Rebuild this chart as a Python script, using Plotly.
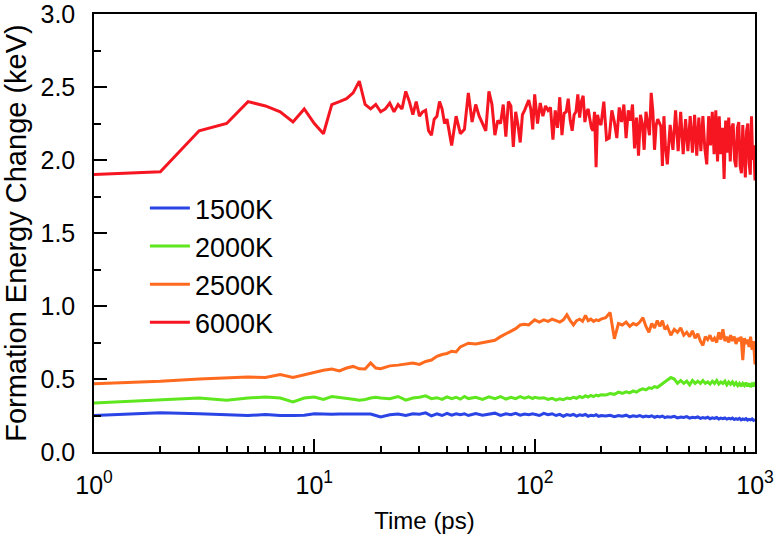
import plotly.graph_objects as go

# ---------------- data ----------------
# time grid for the 6000K series (ps)
time_red = (list(range(1, 41)) + list(range(42, 100, 2)) + list(range(100, 199, 3))
            + list(range(200, 398, 6)) + list(range(400, 1001, 12)))
energy_6000K = [
    1.90, 1.92, 2.20, 2.25, 2.40, 2.37, 2.33, 2.26, 2.35, 2.25,
    2.18, 2.38, 2.40, 2.42, 2.46, 2.54, 2.38, 2.35, 2.38, 2.33,
    2.35, 2.39, 2.33, 2.38, 2.35, 2.47, 2.40, 2.31, 2.40, 2.30,
    2.33, 2.34, 2.20, 2.17, 2.28, 2.30, 2.40, 2.35, 2.25, 2.28,
    # 42..98 step 2
    2.10, 2.30, 2.18, 2.21, 2.46, 2.26, 2.38, 2.30, 2.25, 2.20,
    2.47, 2.38, 2.17, 2.27, 2.25, 2.38, 2.16, 2.40, 2.37, 2.09,
    2.33, 2.24, 2.12, 2.31, 2.34, 2.38, 2.41, 2.35, 2.21,
    # 100..196 step 3
    2.45, 2.25, 2.39, 2.30, 2.37, 2.34, 2.36, 2.14, 2.34, 2.22,
    2.43, 2.17, 2.32, 2.33, 2.42, 2.27, 2.20, 2.31, 2.33, 2.45,
    2.29, 2.40, 2.44, 2.26, 2.33, 2.35, 2.28, 2.22, 2.20, 2.33,
    1.95, 2.31, 2.26,
    # 200..392 step 6
    2.24, 2.40, 2.14, 2.15, 2.34, 2.26, 2.15, 2.36, 2.26, 2.38,
    2.15, 2.34, 2.27, 2.38, 2.08, 2.29, 2.03, 2.31, 2.25, 2.07,
    2.33, 2.25, 2.17, 2.46, 2.33, 2.07, 2.24, 2.28, 2.26, 2.23,
    1.96, 2.30, 2.10,
    # 400..1000 step 12
    1.97, 2.24, 2.07, 2.34, 2.06, 2.33, 2.04, 2.28, 2.06, 2.30,
    2.05, 2.31, 2.03, 2.29, 2.06, 2.30, 2.08, 1.97, 2.30, 2.10,
    2.33, 2.04, 2.34, 1.99, 2.30, 2.04, 2.22, 1.87, 2.27, 2.05,
    2.29, 1.99, 2.22, 2.25, 2.00, 1.95, 2.22, 2.26, 1.96, 1.91,
    2.24, 2.05, 1.88, 2.20, 2.25, 1.98, 1.90, 2.30, 2.00, 2.10,
    1.86,
]

# time grid for the 1500K, 2000K and 2500K series (ps)
time_low = (list(range(1, 21)) + list(range(22, 51, 2)) + list(range(54, 99, 4))
            + list(range(100, 201, 5)) + list(range(210, 401, 10)) + list(range(415, 1001, 15)))

energy_1500K = [
    0.250, 0.268, 0.262, 0.258, 0.250, 0.257, 0.250, 0.250, 0.252, 0.262,
    0.258, 0.258, 0.260, 0.260, 0.260, 0.262, 0.262, 0.260, 0.250, 0.240,
    0.255, 0.260, 0.250, 0.262, 0.258, 0.268, 0.248, 0.262, 0.250, 0.265,
    0.252, 0.262, 0.255, 0.262, 0.250,
    0.264, 0.252, 0.260, 0.266, 0.250, 0.262, 0.255, 0.265, 0.252, 0.260,
    0.256, 0.262,
    0.258, 0.250, 0.265, 0.255, 0.262, 0.250, 0.258, 0.245, 0.256, 0.250,
    0.258, 0.246, 0.255, 0.250, 0.257, 0.245, 0.252, 0.248, 0.255, 0.244,
    0.250,
    0.246, 0.252, 0.242, 0.250, 0.245, 0.252, 0.240, 0.248, 0.244, 0.250,
    0.240, 0.246, 0.242, 0.248, 0.238, 0.245, 0.240, 0.246, 0.236, 0.242,
    0.238, 0.244, 0.234, 0.240, 0.236, 0.242, 0.232, 0.238, 0.235, 0.240,
    0.230, 0.236, 0.232, 0.238, 0.228, 0.234, 0.230, 0.236, 0.226, 0.232,
    0.228, 0.234, 0.225, 0.230, 0.226, 0.232, 0.222, 0.228, 0.224, 0.230,
    0.220, 0.226, 0.222, 0.228, 0.218, 0.224, 0.220, 0.226, 0.216, 0.222,
]

energy_2000K = [
    0.336, 0.360, 0.370, 0.355, 0.370, 0.377, 0.370, 0.343, 0.370, 0.377,
    0.360, 0.380, 0.375, 0.370, 0.362, 0.355, 0.360, 0.370, 0.375, 0.370,
    0.365, 0.380, 0.355, 0.370, 0.375, 0.385, 0.365, 0.372, 0.360, 0.378,
    0.365, 0.375, 0.362, 0.380, 0.366,
    0.375, 0.360, 0.378, 0.365, 0.380, 0.362, 0.375, 0.365, 0.380, 0.368,
    0.378, 0.366,
    0.375, 0.368, 0.372, 0.360, 0.368, 0.355, 0.365, 0.358, 0.370, 0.365,
    0.375, 0.368, 0.380, 0.372, 0.385, 0.376, 0.388, 0.380, 0.390, 0.384,
    0.392,
    0.390, 0.400, 0.395, 0.410, 0.402, 0.412, 0.405, 0.418, 0.410, 0.425,
    0.432, 0.425, 0.440, 0.435, 0.448, 0.442, 0.455, 0.462, 0.475, 0.490,
    0.510, 0.500, 0.470, 0.490, 0.470, 0.485, 0.460, 0.490, 0.470, 0.485,
    0.470, 0.490, 0.470, 0.480, 0.465, 0.485, 0.470, 0.490, 0.465, 0.480,
    0.470, 0.485, 0.460, 0.480, 0.465, 0.480, 0.460, 0.475, 0.455, 0.470,
    0.450, 0.470, 0.455, 0.475, 0.450, 0.470, 0.445, 0.465, 0.450, 0.480,
]

energy_2500K = [
    0.468, 0.484, 0.500, 0.505, 0.513, 0.510, 0.530, 0.510, 0.530, 0.545,
    0.560, 0.568, 0.555, 0.575, 0.586, 0.570, 0.568, 0.610, 0.575, 0.570,
    0.590, 0.595, 0.605, 0.610, 0.600, 0.620, 0.630, 0.655, 0.668, 0.675,
    0.690, 0.685, 0.720, 0.735, 0.745,
    0.740, 0.750, 0.760, 0.765, 0.790, 0.810, 0.830, 0.845, 0.870, 0.875,
    0.870, 0.895,
    0.905, 0.890, 0.905, 0.895, 0.910, 0.900, 0.890, 0.905, 0.940, 0.900,
    0.870, 0.900, 0.910, 0.895, 0.935, 0.900, 0.910, 0.895, 0.905, 0.900,
    0.910,
    0.920, 0.955, 0.775, 0.880, 0.870, 0.890, 0.860, 0.880, 0.870, 0.890,
    0.920, 0.860, 0.820, 0.880, 0.850, 0.900, 0.860, 0.900, 0.840, 0.860,
    0.800, 0.840, 0.820, 0.850, 0.800, 0.820, 0.790, 0.830, 0.780, 0.810,
    0.760, 0.730, 0.790, 0.770, 0.800, 0.760, 0.780, 0.750, 0.820, 0.770,
    0.840, 0.760, 0.790, 0.750, 0.800, 0.760, 0.790, 0.740, 0.780, 0.760,
    0.790, 0.630, 0.780, 0.740, 0.770, 0.720, 0.790, 0.700, 0.760, 0.600,
]

series_names = ["1500K", "2000K", "2500K", "6000K"]
series_colors = ["#2a44e6", "#5ee61e", "#ff6a1e", "#f51622"]

x_tick_vals = [1, 10, 100, 1000]
x_tick_text = ["10<sup>0</sup>", "10<sup>1</sup>", "10<sup>2</sup>", "10<sup>3</sup>"]
y_tick_vals = [0.0, 0.5, 1.0, 1.5, 2.0, 2.5, 3.0]
y_tick_text = ["0.0", "0.5", "1.0", "1.5", "2.0", "2.5", "3.0"]

# ---------------- figure ----------------
FONT = "Liberation Sans, Arial, sans-serif"
fig = go.Figure()
series_x = [time_low, time_low, time_low, time_red]
series_y = [energy_1500K, energy_2000K, energy_2500K, energy_6000K]
for name, color, xs, ys in zip(series_names, series_colors, series_x, series_y):
    fig.add_trace(go.Scatter(x=xs, y=ys, mode="lines", name=name,
                             line=dict(color=color, width=3), hoverinfo="skip"))

axis_common = dict(showline=True, linecolor="black", linewidth=1.5, mirror=True,
                   ticks="inside", ticklen=13, tickwidth=1.5, tickcolor="black",
                   showgrid=False, zeroline=False, automargin=False,
                   ticklabeloverflow="allow",
                   tickfont=dict(family=FONT, size=25, color="black"))

fig.update_xaxes(type="log", range=[0, 3], tickvals=x_tick_vals, ticktext=x_tick_text,
                 ticklabelstandoff=10,
                 minor=dict(ticks="inside", ticklen=6, tickwidth=1.5, tickcolor="black",
                            dtick="D1", showgrid=False),
                 title=dict(text="Time (ps)", font=dict(family=FONT, size=24, color="black"),
                            standoff=14),
                 **axis_common)
fig.update_yaxes(range=[0, 3], tickvals=y_tick_vals, ticktext=y_tick_text,
                 ticklabelstandoff=12,
                 minor=dict(ticks="inside", ticklen=7, tickwidth=1.5, tickcolor="black",
                            dtick=0.25, tick0=0, showgrid=False),
                 title=dict(text="Formation Energy Change (keV)",
                            font=dict(family=FONT, size=29, color="black"), standoff=7),
                 **axis_common)

fig.update_layout(
    width=776, height=547,
    margin=dict(l=94, r=21, t=14, b=95),
    plot_bgcolor="white", paper_bgcolor="white",
    showlegend=True, hovermode=False,
    legend=dict(x=0.077, y=0.612, xanchor="left", yanchor="top",
                font=dict(family=FONT, size=27, color="black"),
                bgcolor="rgba(0,0,0,0)", tracegroupgap=0, itemwidth=40),
)

fig.write_html("out.html", config={"displayModeBar": False},
               post_script="document.body.style.margin='0px';document.body.style.overflow='hidden';")
